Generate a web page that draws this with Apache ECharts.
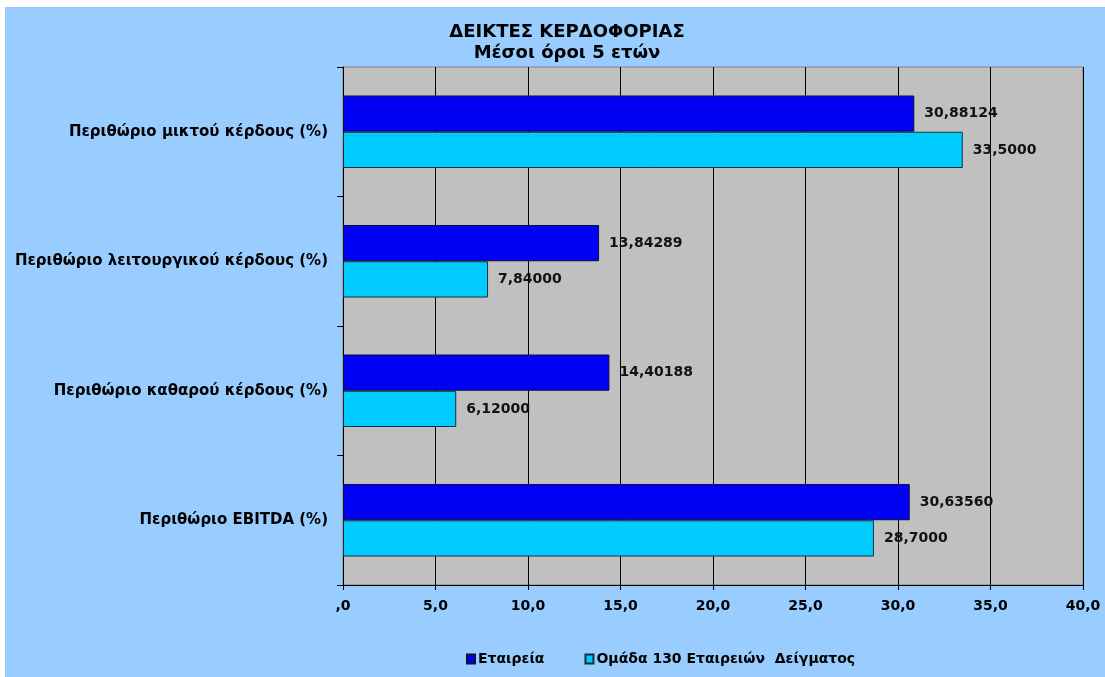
<!DOCTYPE html>
<html>
<head>
<meta charset="utf-8">
<script src="https://cdn.jsdelivr.net/npm/echarts@6/dist/echarts.min.js"></script>
<style>
html,body{margin:0;padding:0;background:#ffffff;width:1105px;height:677px;overflow:hidden;}
#main{position:absolute;left:5px;top:7px;width:1100px;height:670px;background:#99CCFF;}
</style>
</head>
<body>
<div id="main"></div>
<script>
// Categories listed top to bottom
var categories = [
  'Περιθώριο μικτού κέρδους (%)',
  'Περιθώριο λειτουργικού κέρδους (%)',
  'Περιθώριο καθαρού κέρδους (%)',
  'Περιθώριο EBITDA (%)'
];
var seriesNames = ['Εταιρεία', 'Ομάδα 130 Εταιρειών  Δείγματος'];
var companyValues = [30.88124, 13.84289, 14.40188, 30.6356];
var groupValues = [33.5, 7.84, 6.12, 28.7];
var companyLabels = ['30,88124', '13,84289', '14,40188', '30,63560'];
var groupLabels = ['33,5000', '7,84000', '6,12000', '28,7000'];
var xTickLabels = [',0', '5,0', '10,0', '15,0', '20,0', '25,0', '30,0', '35,0', '40,0'];

var FONT = 'DejaVu Sans';
var chart = echarts.init(document.getElementById('main'), null, {renderer: 'canvas'});

function labelOf(arr) {
  return function (p) { return arr[p.dataIndex]; };
}

chart.setOption({
  backgroundColor: '#99CCFF',
  animation: false,
  title: {
    text: 'ΔΕΙΚΤΕΣ ΚΕΡΔΟΦΟΡΙΑΣ\nΜέσοι όροι 5 ετών',
    left: 557,
    top: 10,
    textAlign: 'center',
    textStyle: {fontFamily: FONT, fontSize: 18, fontWeight: 'bold', color: '#000', lineHeight: 21, align: 'center'}
  },
  legend: {
    bottom: 6,
    left: 456,
    icon: 'rect',
    itemWidth: 8,
    itemHeight: 9,
    itemGap: 40,
    data: seriesNames,
    textStyle: {fontFamily: FONT, fontSize: 14, fontWeight: 'bold', color: '#000', padding: [0, 0, 0, -2]}
  },
  grid: {
    left: 338, right: 22, top: 60, bottom: 92,
    show: true, backgroundColor: '#C0C0C0', borderColor: '#808080', borderWidth: 1
  },
  xAxis: {
    type: 'value',
    min: 0, max: 40, interval: 5,
    axisLine: {show: true, lineStyle: {color: '#000', width: 1}},
    axisTick: {show: true, length: 5, lineStyle: {color: '#000'}},
    splitLine: {show: true, lineStyle: {color: '#000', width: 1}},
    axisLabel: {
      margin: 14,
      fontFamily: FONT, fontSize: 14, fontWeight: 'bold', color: '#000',
      formatter: function (v) { return xTickLabels[Math.round(v / 5)]; }
    }
  },
  yAxis: {
    type: 'category',
    inverse: true,
    data: categories,
    axisLine: {show: true, lineStyle: {color: '#000', width: 1}},
    axisTick: {show: true, length: 6, lineStyle: {color: '#000'}},
    axisLabel: {margin: 15, fontFamily: FONT, fontSize: 15, fontWeight: 'bold', color: '#000'}
  },
  series: [
    {
      name: seriesNames[0],
      type: 'bar',
      data: companyValues,
      barGap: '0%',
      barCategoryGap: '44%',
      itemStyle: {color: '#0000F5', borderColor: '#101040', borderWidth: 1},
      label: {show: true, position: 'right', distance: 10, fontFamily: FONT, fontSize: 14, fontWeight: 'bold', color: '#111', formatter: labelOf(companyLabels)}
    },
    {
      name: seriesNames[1],
      type: 'bar',
      data: groupValues,
      barGap: '0%',
      barCategoryGap: '44%',
      itemStyle: {color: '#00CCFF', borderColor: '#103040', borderWidth: 1},
      label: {show: true, position: 'right', distance: 10, fontFamily: FONT, fontSize: 14, fontWeight: 'bold', color: '#111', formatter: labelOf(groupLabels)}
    }
  ]
});
</script>
</body>
</html>
